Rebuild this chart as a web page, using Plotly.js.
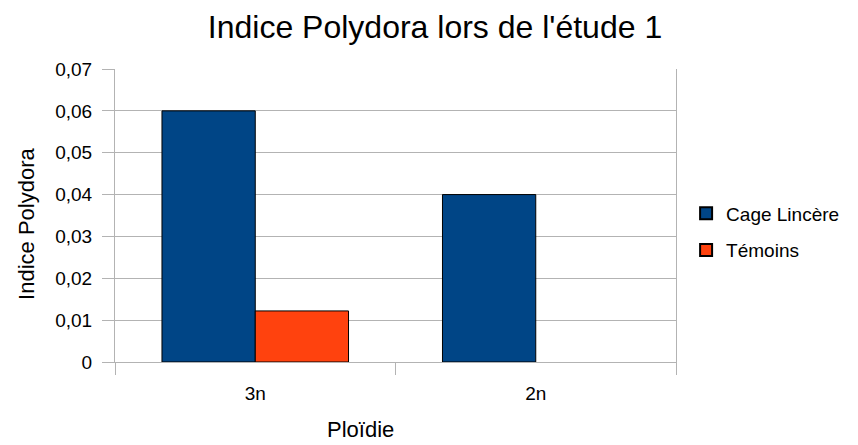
<!DOCTYPE html>
<html><head><meta charset="utf-8">
<script src="https://cdn.plot.ly/plotly-3.0.1.min.js"></script>
<style>body{margin:0;background:#fff}#c{width:858px;height:445px}</style>
</head><body><div id="c"></div>
<script>
const categories = ["3n", "2n"];
const cageLincere = [0.06, 0.04];
const temoins = [0.0122, null];
const seriesNames = ["Cage Lincère", "Témoins"];
const chartTitle = "Indice Polydora lors de l'étude 1";
const xTitle = "Ploïdie";
const yTitle = "Indice Polydora";

const font = "Liberation Sans, Arial, sans-serif";
const data = [
  {type: "bar", x: categories, y: cageLincere, name: seriesNames[0], legendgroup: "a",
   marker: {color: "#004586", line: {color: "#000", width: 1}}},
  {type: "bar", x: categories, y: temoins, name: seriesNames[1], legendgroup: "b",
   marker: {color: "#ff420e", line: {color: "#000", width: 1}}}
];
const layout = {
  width: 858, height: 445,
  margin: {l: 115, r: 182, t: 69, b: 83},
  paper_bgcolor: "#fff", plot_bgcolor: "#fff",
  separators: ", ",
  font: {family: font, color: "#000", size: 19},
  title: {text: chartTitle, font: {size: 32, family: font},
          x: 0.507, xanchor: "center", xref: "container", y: 0.94, yanchor: "middle"},
  barmode: "group", bargap: 0.335, bargroupgap: 0,
  xaxis: {tickson: "boundaries", ticks: "outside", ticklen: 12, tickcolor: "#b3b3b3",
          showline: true, linecolor: "#b3b3b3", showgrid: false, zeroline: false,
          tickfont: {size: 19}, ticklabelstandoff: 14},
  yaxis: {range: [0, 0.07], dtick: 0.01, tickformat: ".2~f",
          ticks: "outside", ticklen: 12, tickcolor: "#b3b3b3",
          showgrid: true, gridcolor: "#b3b3b3", zeroline: false,
          showline: true, mirror: true, linecolor: "#b3b3b3",
          tickfont: {size: 19}, ticklabelstandoff: 6},
  legend: {x: 1.018, y: 0.444, yanchor: "middle", font: {size: 19},
           traceorder: "grouped", tracegroupgap: 9, itemsizing: "constant"},
  annotations: [
    {text: xTitle, xref: "paper", yref: "paper", x: 0.4385, y: -0.281,
     xanchor: "center", yanchor: "bottom", showarrow: false, font: {size: 22}},
    {text: yTitle, xref: "paper", yref: "paper", x: -0.157, y: 0.471, textangle: -90,
     xanchor: "center", yanchor: "middle", showarrow: false, font: {size: 22}}
  ],
  showlegend: true
};
Plotly.newPlot("c", data, layout, {displayModeBar: false, staticPlot: true});
</script></body></html>
